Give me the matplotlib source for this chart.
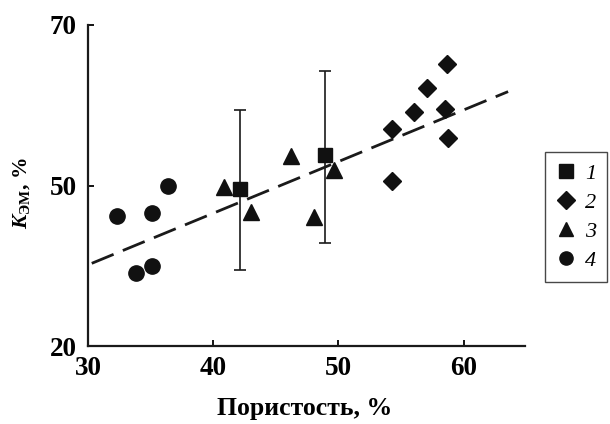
import matplotlib
matplotlib.use("Agg")
import matplotlib.pyplot as plt
import numpy as np

plt.rcParams['font.family'] = ['Liberation Serif', 'DejaVu Serif']
plt.rcParams['mathtext.fontset'] = 'custom'
plt.rcParams['mathtext.rm'] = 'Liberation Serif:bold'
plt.rcParams['mathtext.it'] = 'Liberation Serif:italic:bold'
plt.rcParams['mathtext.bf'] = 'Liberation Serif:bold'

# Series 1 (squares with error bars)
s1_x = [42.1, 48.9]
s1_y = [49.6, 53.8]
s1_err_low = [39.5, 42.8]
s1_err_high = [59.4, 64.3]
# Series 2 (diamonds)
s2_x = [58.7, 57.05, 56.0, 54.25, 58.5, 58.75, 54.25]
s2_y = [65.1, 62.2, 59.1, 57.0, 59.5, 55.9, 50.5]
# Series 3 (triangles)
s3_x = [40.9, 43.05, 46.25, 48.05, 49.65]
s3_y = [49.85, 46.75, 53.7, 46.1, 51.9]
# Series 4 (circles)
s4_x = [32.35, 35.15, 36.35, 33.8, 35.15]
s4_y = [46.25, 46.6, 50.0, 39.05, 40.0]
# Trend line endpoints
trend_x = [30.3, 63.55]
trend_y = [40.3, 61.7]

legend_labels = ["1", "2", "3", "4"]
x_ticks = [30, 40, 50, 60]
x_tick_labels = ["30", "40", "50", "60"]
y_ticks = [30, 50, 70]
y_tick_labels = ["20", "50", "70"]

fig = plt.figure(figsize=(6.1, 4.24), dpi=100)
ax = fig.add_axes([88/610, 1-346/424, (525-88)/610, (346-25)/424])

ax.plot(trend_x, trend_y, color='#1a1a1a', lw=2.0, linestyle=(0, (8.5, 3.6)), zorder=2)

yerr = [np.array(s1_y) - np.array(s1_err_low), np.array(s1_err_high) - np.array(s1_y)]
ax.errorbar(s1_x, s1_y, yerr=yerr, fmt='none', ecolor='#1a1a1a', elinewidth=1.2,
            capsize=4, capthick=1.2, zorder=3)

h1, = ax.plot(s1_x, s1_y, 's', color='#111111', ms=10, zorder=4, linestyle='none')
h2, = ax.plot(s2_x, s2_y, 'D', color='#111111', ms=9, zorder=4, linestyle='none')
h3, = ax.plot(s3_x, s3_y, '^', color='#111111', ms=11, zorder=4, linestyle='none')
h4, = ax.plot(s4_x, s4_y, 'o', color='#111111', ms=11, zorder=4, linestyle='none')

ax.set_xlim(30, 64.9)
ax.set_ylim(30, 70)
ax.spines['top'].set_visible(False)
ax.spines['right'].set_visible(False)
for s in ['left', 'bottom']:
    ax.spines[s].set_linewidth(1.6)
    ax.spines[s].set_color('#1a1a1a')

ax.set_xticks(x_ticks)
ax.set_xticklabels(x_tick_labels, fontsize=19.5, fontweight='bold')
ax.set_yticks(y_ticks)
ax.set_yticklabels(y_tick_labels, fontsize=19.5, fontweight='bold')
ax.tick_params(direction='in', length=4, width=1.3)
ax.tick_params(axis='x', pad=7.5)
ax.tick_params(axis='y', pad=8)

ax.set_xlabel("Пористость, %", fontsize=18.5, fontweight='bold')
ax.xaxis.set_label_coords(0.495, -0.159)
ax.set_ylabel(r"$\mathit{K}_{\mathrm{ЭМ}}$, %", fontsize=15.5, fontweight='bold')
ax.yaxis.set_label_coords(-0.128, 0.477)

leg = ax.legend([h1, h2, h3, h4], legend_labels, loc='upper left',
                bbox_to_anchor=(545/610, 1-152/424), bbox_transform=fig.transFigure,
                borderaxespad=0,
                frameon=True, fancybox=False, edgecolor='#1a1a1a', handlelength=0.9,
                handletextpad=0.4, borderpad=0.5, labelspacing=0.38,
                prop={'family': 'Liberation Serif', 'style': 'italic', 'size': 16})
leg.get_frame().set_linewidth(1.0)
for h in leg.legend_handles:
    h.set_markersize(9.5)

fig.savefig("out.png", dpi=100)
